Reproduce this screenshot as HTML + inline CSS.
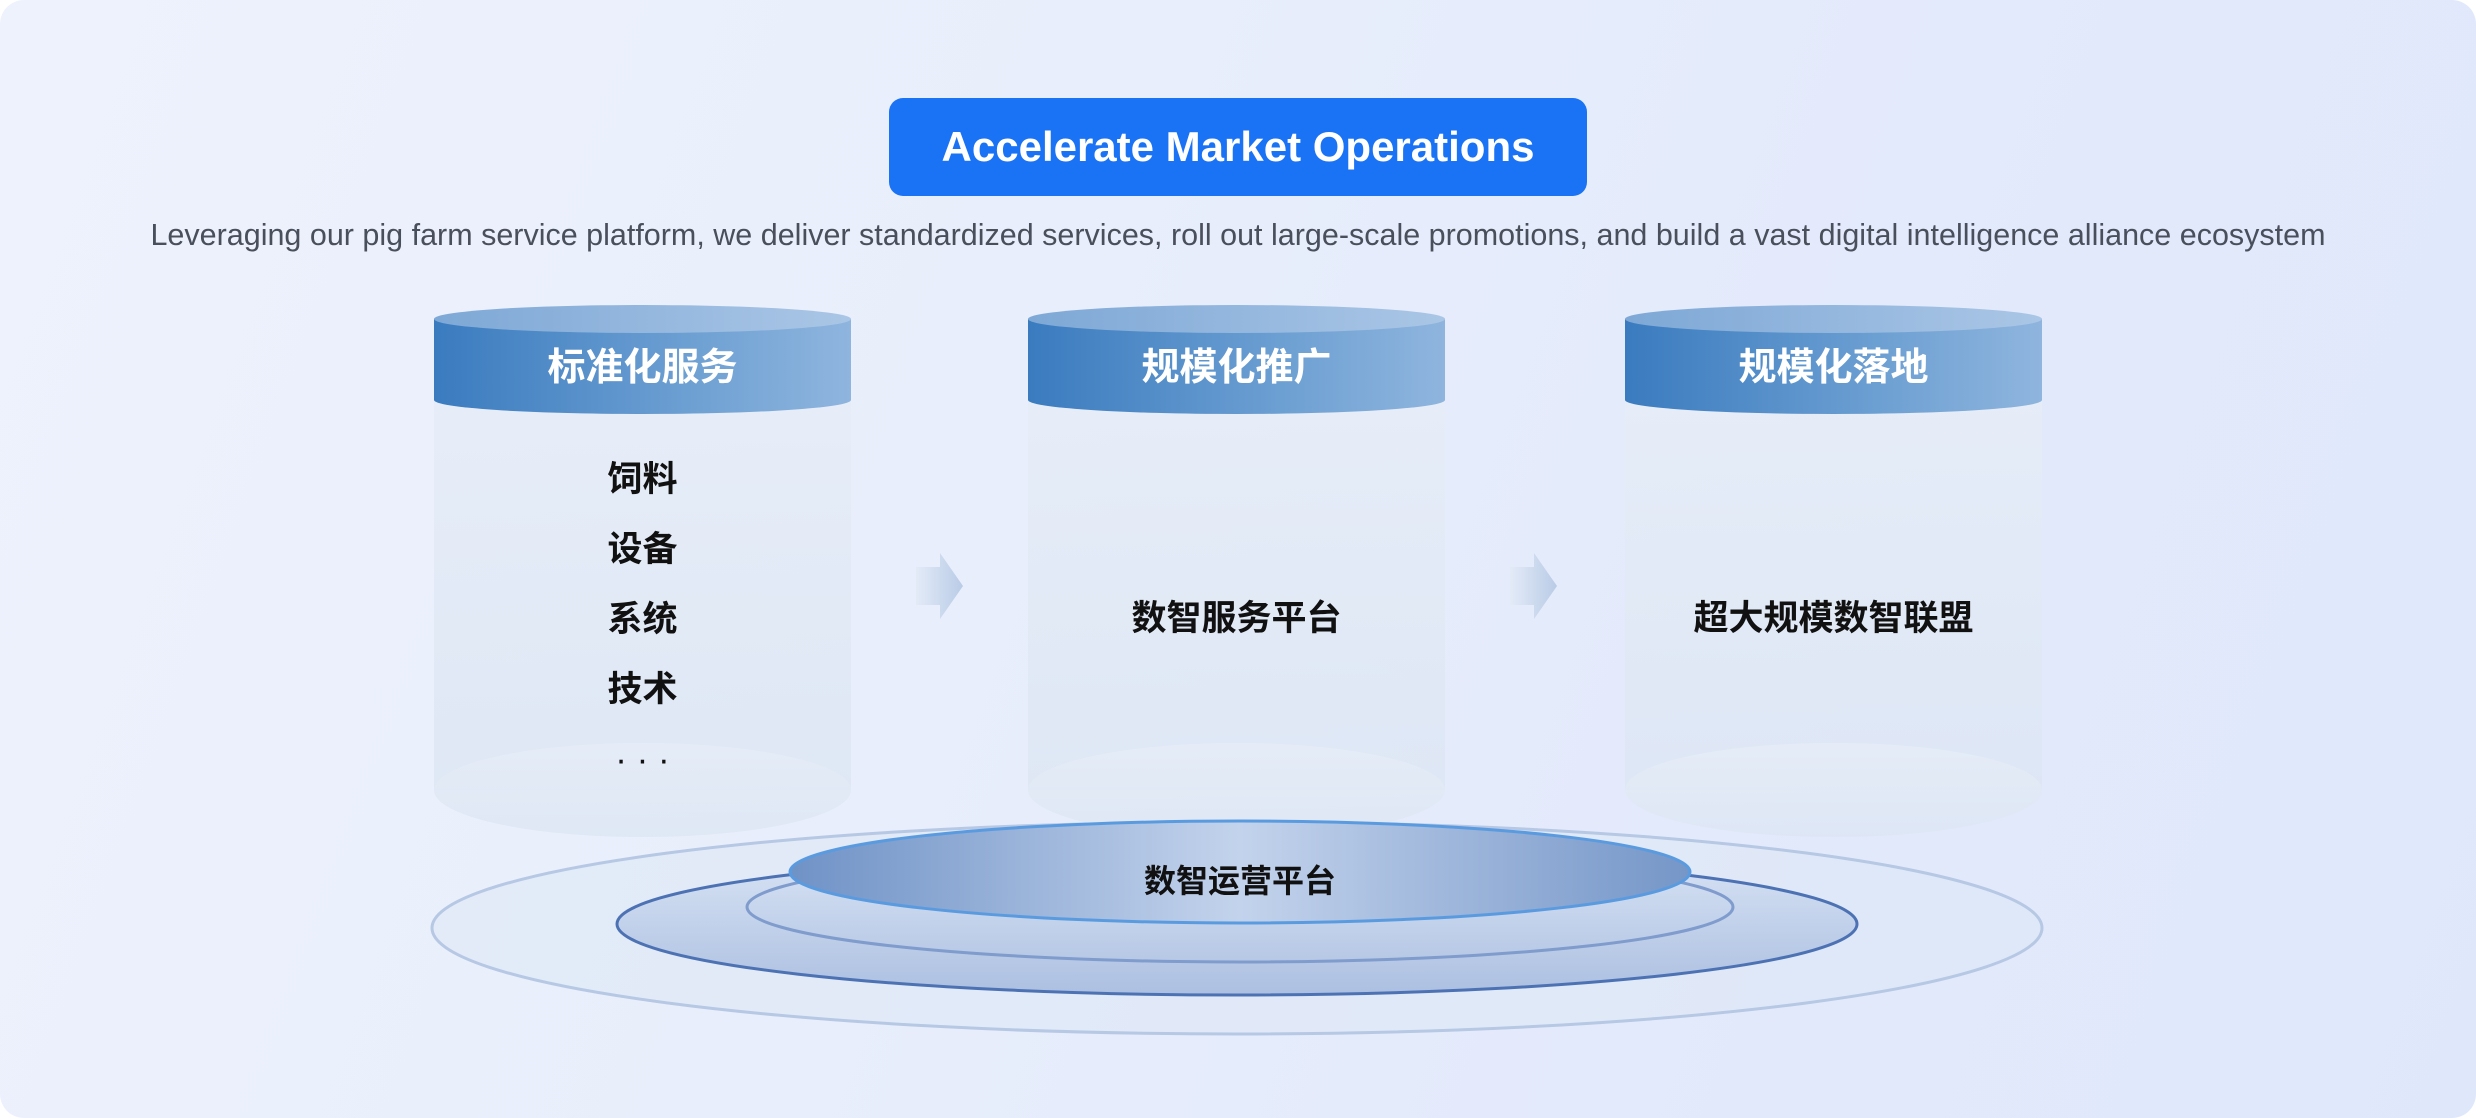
<!DOCTYPE html>
<html><head><meta charset="utf-8"><style>
html,body{margin:0;padding:0;}
body{width:2476px;height:1118px;overflow:hidden;background:#fff;font-family:"Liberation Sans","Noto Sans CJK SC",sans-serif;}
.card{position:absolute;left:0;top:0;width:2476px;height:1118px;border-radius:24px;background:linear-gradient(110deg,#eef2fd 0%,#e8eefb 40%,#e2e9fb 75%,#dfe8fb 100%);overflow:hidden;}
.btn{position:absolute;left:889px;top:98px;width:698px;height:98px;border-radius:14px;background:#1a73f5;color:#fff;font-size:42px;font-weight:bold;text-align:center;line-height:98px;}
.sub{position:absolute;left:0;width:2476px;top:218px;text-align:center;font-size:30.5px;color:#4a4f5c;}
.t{position:absolute;text-align:center;font-family:"Liberation Sans","Noto Sans CJK SC",sans-serif;}
</style></head><body><div class="card">
<svg width="2476" height="1118" style="position:absolute;left:0;top:0">
<defs>
<linearGradient id="cap" x1="0" x2="1"><stop offset="0" stop-color="#3a7bbf"/><stop offset="0.6" stop-color="#6c9fd2"/><stop offset="1" stop-color="#8fb5de"/></linearGradient>
<linearGradient id="capt" x1="0" x2="1"><stop offset="0" stop-color="#7ea8d6"/><stop offset="1" stop-color="#aac6e6"/></linearGradient>
<linearGradient id="body" x1="0" y1="0" x2="0" y2="1"><stop offset="0" stop-color="#e6edf8" stop-opacity="0.9"/><stop offset="1" stop-color="#dde6f4" stop-opacity="0.85"/></linearGradient>
<linearGradient id="disc" x1="0" x2="1"><stop offset="0" stop-color="#6f92c6"/><stop offset="0.5" stop-color="#c3d3ec"/><stop offset="1" stop-color="#7596c8"/></linearGradient>
<linearGradient id="ring" x1="0" y1="0" x2="0" y2="1"><stop offset="0" stop-color="#d6e2f4"/><stop offset="1" stop-color="#9fb5db"/></linearGradient>
<linearGradient id="arr" x1="0" x2="1"><stop offset="0" stop-color="#e3ebf7"/><stop offset="1" stop-color="#b9cbe6"/></linearGradient>
</defs>
<ellipse cx="1237" cy="928" rx="805" ry="106" fill="#dde7f6" fill-opacity="0.6" stroke="#b7c8e4" stroke-width="3"/>
<ellipse cx="1237" cy="924" rx="620" ry="71" fill="url(#ring)" fill-opacity="0.8" stroke="#4d72b4" stroke-width="3"/>
<ellipse cx="1240" cy="907" rx="493" ry="55" fill="none" stroke="#7f9ccd" stroke-width="3"/>
<g id="c1">
<rect x="434" y="400" width="417" height="390" fill="url(#body)"/>
<ellipse cx="642.5" cy="790" rx="208.5" ry="47" fill="url(#body)"/>
<path d="M434 319 L434 400 A208.5 14 0 0 0 851 400 L851 319 Z" fill="url(#cap)"/>
<ellipse cx="642.5" cy="319" rx="208.5" ry="14" fill="url(#capt)"/>
</g>
<use href="#c1" x="594"/>
<use href="#c1" x="1191"/>
<path d="M916 567 H940 V553 L963 586 L940 619 V605 H916 Z" fill="url(#arr)"/>
<path d="M1510 567 H1534 V553 L1557 586 L1534 619 V605 H1510 Z" fill="url(#arr)"/>
<ellipse cx="1240" cy="872" rx="450" ry="51" fill="url(#disc)" stroke="#5a9be0" stroke-width="3"/>
</svg>
<div class="btn">Accelerate Market Operations</div>
<div class="sub">Leveraging our pig farm service platform, we deliver standardized services, roll out large-scale promotions, and build a vast digital intelligence alliance ecosystem</div>
<div class="t" style="left:434px;width:417px;top:336px;font-size:38px;font-weight:bold;color:#fff">标准化服务</div>
<div class="t" style="left:1028px;width:417px;top:336px;font-size:38px;font-weight:bold;color:#fff">规模化推广</div>
<div class="t" style="left:1625px;width:417px;top:336px;font-size:38px;font-weight:bold;color:#fff">规模化落地</div>
<div class="t" style="left:434px;width:417px;top:445px;font-size:35px;font-weight:bold;color:#111;line-height:70px">饲料<br>设备<br>系统<br>技术<br><span style="font-weight:normal">· · ·</span></div>
<div class="t" style="left:1028px;width:417px;top:590px;font-size:35px;font-weight:bold;color:#111">数智服务平台</div>
<div class="t" style="left:1625px;width:417px;top:590px;font-size:35px;font-weight:bold;color:#111">超大规模数智联盟</div>
<div class="t" style="left:1040px;width:400px;top:856px;font-size:32px;font-weight:bold;color:#111">数智运营平台</div>
</div></body></html>
